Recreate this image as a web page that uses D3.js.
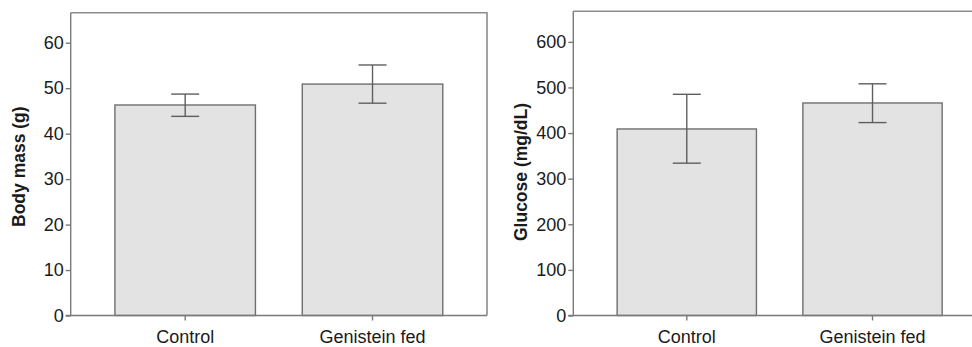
<!DOCTYPE html>
<html>
<head>
<meta charset="utf-8">
<script src="https://cdn.jsdelivr.net/npm/d3@7"></script>
<style>
  html, body { margin: 0; padding: 0; background: #fff; }
  svg { display: block; font-family: "Liberation Sans", Arial, sans-serif; }
</style>
</head>
<body>
<svg id="chart" width="972" height="347"></svg>
<script>
// ---- data ----
const categories = ["Control", "Genistein fed"];
const bodyMassMean = [46.3, 50.9];
const bodyMassLow = [43.8, 46.7];
const bodyMassHigh = [48.7, 55.1];
const bodyMassTicks = [0, 10, 20, 30, 40, 50, 60];
const glucoseMean = [409, 466];
const glucoseLow = [334, 423];
const glucoseHigh = [485, 508];
const glucoseTicks = [0, 100, 200, 300, 400, 500, 600];

const svg = d3.select("#chart");

function panel(cfg) {
  const g = svg.append("g");
  const x = d3.scaleBand().domain(categories)
    .range([cfg.left, cfg.right]).paddingInner(0.25).paddingOuter(0.236);
  const y = d3.scaleLinear().domain([0, cfg.max]).range([cfg.bottom, cfg.top]);

  // frame (top and right)
  g.append("path")
    .attr("d", `M${cfg.left},${cfg.top}H${cfg.right}V${cfg.bottom}`)
    .attr("fill", "none").attr("stroke", "#8c8c8c").attr("stroke-width", 1.6);

  // bars
  g.selectAll("rect.bar").data(categories).join("rect")
    .attr("class", "bar")
    .attr("x", d => x(d))
    .attr("width", x.bandwidth())
    .attr("y", (d, i) => y(cfg.mean[i]))
    .attr("height", (d, i) => y(0) - y(cfg.mean[i]))
    .attr("fill", "#e3e3e3").attr("stroke", "#6f6f6f").attr("stroke-width", 1.4);

  // error bars
  const cap = 14;
  categories.forEach((c, i) => {
    const cx = x(c) + x.bandwidth() / 2;
    const e = g.append("g").attr("stroke", "#5e5e5e").attr("stroke-width", 1.4).attr("fill", "none");
    e.append("line").attr("x1", cx).attr("x2", cx).attr("y1", y(cfg.low[i])).attr("y2", y(cfg.high[i]));
    e.append("line").attr("x1", cx - cap).attr("x2", cx + cap).attr("y1", y(cfg.low[i])).attr("y2", y(cfg.low[i]));
    e.append("line").attr("x1", cx - cap).attr("x2", cx + cap).attr("y1", y(cfg.high[i])).attr("y2", y(cfg.high[i]));
  });

  // y axis
  const ya = g.append("g").attr("transform", `translate(${cfg.left},0)`)
    .call(d3.axisLeft(y).tickValues(cfg.ticks).tickSize(5).tickPadding(2).tickSizeOuter(0));
  ya.select(".domain").attr("d", `M0,${cfg.bottom}V${cfg.top}`);
  ya.selectAll("path, line").attr("stroke", "#7a7a7a").attr("stroke-width", 1.4);
  ya.selectAll("text").attr("font-size", 18).attr("fill", "#1a1a1a")
    .attr("font-family", "'Liberation Sans', Arial, sans-serif");

  // x axis
  const xa = g.append("g").attr("transform", `translate(0,${cfg.bottom})`)
    .call(d3.axisBottom(x).tickSize(5).tickPadding(10).tickSizeOuter(0));
  xa.select(".domain").attr("d", `M${cfg.left - 5},0H${cfg.right}`);
  xa.selectAll("path, line").attr("stroke", "#7a7a7a").attr("stroke-width", 1.4);
  xa.selectAll("text").attr("font-size", 18).attr("fill", "#1a1a1a")
    .attr("font-family", "'Liberation Sans', Arial, sans-serif");

  // y label
  g.append("text")
    .attr("transform", `translate(${cfg.labelX},${cfg.labelY}) rotate(-90)`)
    .attr("text-anchor", "middle")
    .attr("font-size", 17.5).attr("font-weight", "bold").attr("fill", "#1a1a1a")
    .text(cfg.label);
}

panel({left: 70.7, right: 487, top: 12.7, bottom: 315.5, max: 66.6,
  mean: bodyMassMean, low: bodyMassLow, high: bodyMassHigh, ticks: bodyMassTicks,
  label: "Body mass (g)", labelX: 24.5, labelY: 166.7});
panel({left: 573.3, right: 986, top: 11.3, bottom: 315.5, max: 667,
  mean: glucoseMean, low: glucoseLow, high: glucoseHigh, ticks: glucoseTicks,
  label: "Glucose (mg/dL)", labelX: 526.5, labelY: 172});
</script>
</body>
</html>
